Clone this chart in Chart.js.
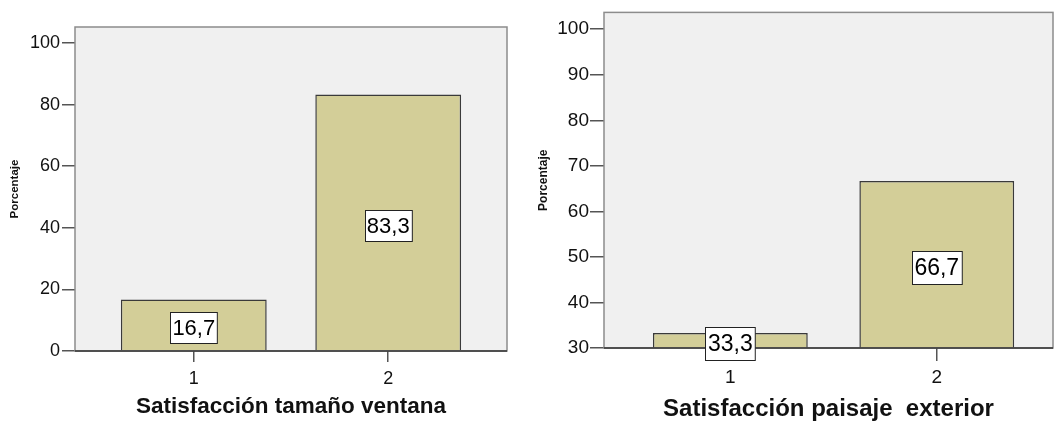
<!DOCTYPE html>
<html>
<head>
<meta charset="utf-8">
<script src="https://cdn.jsdelivr.net/npm/chart.js@4"></script>
<style>
  html, body { margin: 0; padding: 0; background: #ffffff; }
  body { width: 1054px; height: 421px; position: relative; overflow: hidden; }
  .panel { position: absolute; top: 0; }
</style>
</head>
<body>
<div class="panel" style="left:0;width:530px;height:421px;"><canvas id="left" width="530" height="421"></canvas></div>
<div class="panel" style="left:530px;width:524px;height:421px;"><canvas id="right" width="524" height="421"></canvas></div>
<script>
// Satisfacción tamaño ventana
const ventanaCategories = [1, 2];
const ventanaValues = [16.7, 83.3];
const ventanaYTicks = [0, 20, 40, 60, 80, 100];

// Satisfacción paisaje exterior
const paisajeCategories = [1, 2];
const paisajeValues = [33.3, 66.7];
const paisajeYTicks = [30, 40, 50, 60, 70, 80, 90, 100];

const FONT = "'Liberation Sans', Arial, sans-serif";

// Plot background, frame, bottom axis line and value boxes
const panelPlugin = {
  id: 'panelDecor',
  beforeDraw(chart) {
    const { ctx, chartArea: a } = chart;
    ctx.save();
    ctx.fillStyle = '#f0f0f0';
    ctx.fillRect(a.left, a.top, a.right - a.left, a.bottom - a.top);
    ctx.restore();
  },
  afterDatasetsDraw(chart) {
    const { ctx, chartArea: a } = chart;
    const o = chart.options.plugins.panelDecor;
    ctx.save();
    ctx.strokeStyle = '#8c8c8c';
    ctx.lineWidth = 1.5;
    ctx.strokeRect(a.left, a.top, a.right - a.left, a.bottom - a.top);
    ctx.strokeStyle = '#333333';
    ctx.beginPath();
    ctx.moveTo(a.left, a.bottom);
    ctx.lineTo(a.right, a.bottom);
    ctx.stroke();

    // value boxes centred on the visible part of each bar
    const meta = chart.getDatasetMeta(0);
    const values = chart.data.datasets[0].data;
    ctx.font = o.labelSize + 'px ' + FONT;
    ctx.textAlign = 'center';
    ctx.textBaseline = 'middle';
    meta.data.forEach((bar, i) => {
      const v = values[i].y;
      const text = v.toFixed(1).replace('.', ',');
      const bottom = Math.min(bar.base, a.bottom);
      const cy = (bar.y + bottom) / 2 + 3;
      const w = ctx.measureText(text).width + o.boxPad;
      const h = o.boxHeight;
      const x0 = Math.round(bar.x - w / 2) + 0.5;
      const y0 = Math.round(cy - h / 2) + 0.5;
      ctx.fillStyle = '#ffffff';
      ctx.fillRect(x0, y0, w, h);
      ctx.strokeStyle = '#222222';
      ctx.lineWidth = 1;
      ctx.strokeRect(x0, y0, w, h);
      ctx.fillStyle = '#000000';
      ctx.fillText(text, bar.x, y0 + h / 2 + 1);
    });
    ctx.restore();
  }
};

function makeChart(id, cfg) {
  const data = cfg.categories.map((c, i) => ({ x: c, y: cfg.values[i] }));
  return new Chart(document.getElementById(id), {
    type: 'bar',
    data: {
      datasets: [{
        data: data,
        backgroundColor: '#d3ce98',
        borderColor: '#3a3a3a',
        borderWidth: 1.5,
        barPercentage: 0.75,
        categoryPercentage: 1.0
      }]
    },
    plugins: [panelPlugin],
    options: {
      responsive: false,
      animation: false,
      layout: { padding: cfg.padding },
      plugins: {
        legend: { display: false },
        tooltip: { enabled: false },
        panelDecor: { labelSize: cfg.labelSize, boxHeight: cfg.boxHeight, boxPad: cfg.boxPad }
      },
      scales: {
        x: {
          type: 'linear',
          offset: false,
          min: cfg.xMin,
          max: cfg.xMax,
          afterBuildTicks(scale) { scale.ticks = cfg.categories.map(v => ({ value: v })); },
          afterFit(scale) { scale.height = cfg.xAxisHeight; },
          ticks: {
            color: '#111111',
            font: { family: FONT, size: cfg.tickSize },
            padding: cfg.xTickPadding,
            callback: v => String(v)
          },
          grid: { offset: false, drawOnChartArea: false, color: '#555555', lineWidth: 1.5, tickLength: cfg.xTickLength },
          border: { display: false },
          title: {
            display: true,
            text: cfg.xTitle,
            color: '#111111',
            font: { family: FONT, size: cfg.xTitleSize, weight: 'bold', lineHeight: 1 },
            padding: { top: 0, bottom: cfg.xTitlePad }
          }
        },
        y: {
          min: cfg.yMin,
          max: cfg.yMax,
          afterBuildTicks(scale) { scale.ticks = cfg.yTicks.map(v => ({ value: v })); },
          afterFit(scale) { scale.width = cfg.yAxisWidth; },
          ticks: {
            color: '#111111',
            font: { family: FONT, size: cfg.tickSize },
            padding: cfg.yTickPadding
          },
          grid: { drawOnChartArea: false, color: '#555555', lineWidth: 1.5, tickLength: cfg.yTickLength },
          border: { display: false },
          title: {
            display: true,
            text: 'Porcentaje',
            color: '#111111',
            font: { family: FONT, size: cfg.yTitleSize, weight: 'bold', lineHeight: 1.2 },
            padding: { top: cfg.yTitlePad, bottom: 0 }
          }
        }
      }
    }
  });
}

makeChart('left', {
  categories: ventanaCategories,
  values: ventanaValues,
  yTicks: ventanaYTicks,
  yMin: 0, yMax: 105.2,
  xMin: 0.389, xMax: 2.611,
  padding: { top: 27, right: 23, bottom: 0, left: 0 },
  yAxisWidth: 75, xAxisHeight: 70,
  tickSize: 18, yTickPadding: 2, yTickLength: 13,
  xTickPadding: 6, xTickLength: 11,
  xTitle: 'Satisfacción tamaño ventana', xTitleSize: 22.5, xTitlePad: 3,
  yTitleSize: 11.5, yTitlePad: 8,
  labelSize: 22, boxHeight: 31, boxPad: 4
});

makeChart('right', {
  categories: paisajeCategories,
  values: paisajeValues,
  yTicks: paisajeYTicks,
  yMin: 30, yMax: 103.7,
  xMin: 0.388, xMax: 2.563,
  padding: { top: 8, right: 1, bottom: 0, left: 0 },
  yAxisWidth: 74, xAxisHeight: 73,
  tickSize: 19, yTickPadding: 1, yTickLength: 14,
  xTickPadding: 5, xTickLength: 13,
  xTitle: 'Satisfacción paisaje  exterior', xTitleSize: 24, xTitlePad: 0,
  yTitleSize: 12, yTitlePad: 6,
  labelSize: 23, boxHeight: 33, boxPad: 5
});
</script>
</body>
</html>
